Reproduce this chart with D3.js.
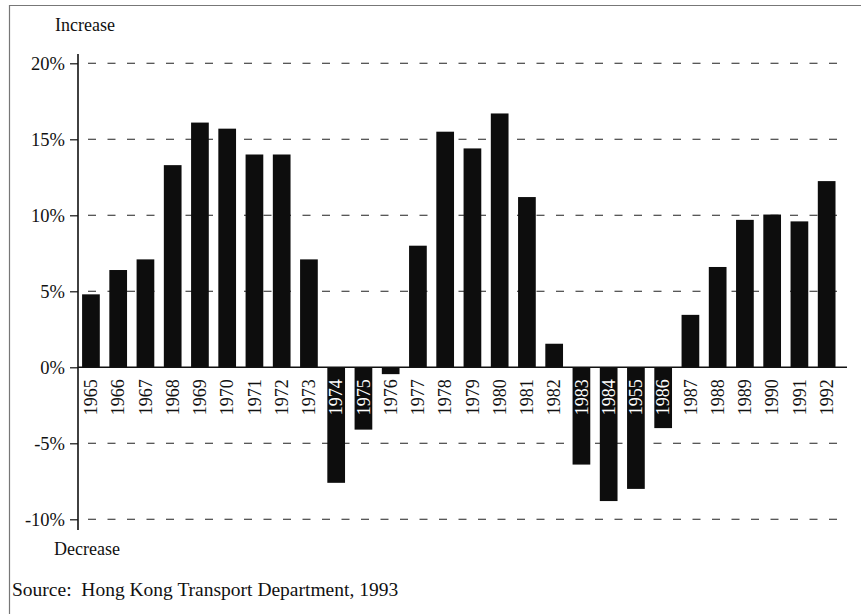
<!DOCTYPE html>
<html>
<head>
<meta charset="utf-8">
<script src="https://cdn.jsdelivr.net/npm/d3@7"></script>
<style>
  html, body { margin: 0; padding: 0; background: #fff; }
  svg { display: block; }
  text { font-family: "Liberation Serif", "DejaVu Serif", serif; fill: #111; }
</style>
</head>
<body>
<div id="chart"></div>
<script>
// Year labels as printed (the 1985 bar is printed "1955" in the source)
const years = ["1965", "1966", "1967", "1968", "1969", "1970", "1971", "1972", "1973", "1974",
  "1975", "1976", "1977", "1978", "1979", "1980", "1981", "1982", "1983", "1984",
  "1955", "1986", "1987", "1988", "1989", "1990", "1991", "1992"];

// Annual change, percent
const changes = [4.8, 6.4, 7.1, 13.3, 16.1, 15.7, 14.0, 14.0, 7.1, -7.6,
  -4.1, -0.45, 8.0, 15.5, 14.4, 16.7, 11.2, 1.55, -6.4, -8.8,
  -8.0, -4.0, 3.45, 6.6, 9.7, 10.05, 9.6, 12.25];

const tickValues = [20, 15, 10, 5, 0, -5, -10];
const tickLabels = ["20%", "15%", "10%", "5%", "0%", "-5%", "-10%"];

const width = 861;
const height = 614;

const svg = d3.select("#chart").append("svg").attr("width", width).attr("height", height);

// Frame (left and top edges only)
svg.append("path")
  .attr("d", "M9.5,614 L9.5,5.5 L861,5.5")
  .attr("fill", "none")
  .attr("stroke", "#777")
  .attr("stroke-width", 1.2);

const x = d3.scaleBand().domain(years).range([78, 839.6]).paddingInner(0.35).paddingOuter(0.15);
const y = d3.scaleLinear().domain([-10, 20]).range([519.3, 63.3]);

// Dashed gridlines (behind the bars)
svg.append("g")
  .selectAll("line")
  .data(tickValues.filter((v) => v !== 0))
  .join("line")
  .attr("x1", 88)
  .attr("x2", 846)
  .attr("y1", (d) => y(d))
  .attr("y2", (d) => y(d))
  .attr("stroke", "#222")
  .attr("stroke-width", 1.1)
  .attr("stroke-dasharray", "8,11.5");

// Y axis with ticks on the left
const yAxis = d3.axisLeft(y)
  .tickValues(tickValues)
  .tickSize(8)
  .tickPadding(5)
  .tickFormat((d, i) => tickLabels[i]);

const axisG = svg.append("g").attr("transform", "translate(78,0)").call(yAxis);
axisG.select(".domain").remove();
axisG.selectAll(".tick line").attr("stroke", "#111").attr("stroke-width", 1.2);
axisG.selectAll(".tick text")
  .attr("font-size", 18.5)
  .attr("font-family", '"Liberation Serif", "DejaVu Serif", serif')
  .attr("fill", "#111");

// Vertical axis line
svg.append("line")
  .attr("x1", 78).attr("x2", 78)
  .attr("y1", 54).attr("y2", 530)
  .attr("stroke", "#111")
  .attr("stroke-width", 1.6);

// Bars
svg.append("g")
  .selectAll("rect")
  .data(changes)
  .join("rect")
  .attr("x", (d, i) => x(years[i]))
  .attr("width", x.bandwidth())
  .attr("y", (d) => y(Math.max(0, d)))
  .attr("height", (d) => Math.abs(y(d) - y(0)))
  .attr("fill", "#0d0d0d");

// Zero line
svg.append("line")
  .attr("x1", 78).attr("x2", 847)
  .attr("y1", y(0)).attr("y2", y(0))
  .attr("stroke", "#111")
  .attr("stroke-width", 1.6);

// Rotated year labels just under the zero line
svg.append("g")
  .selectAll("text")
  .data(years)
  .join("text")
  .attr("transform", (d) => `translate(${x(d) + x.bandwidth() / 2},${y(0) + 12}) rotate(-90)`)
  .attr("dy", "0.34em")
  .attr("text-anchor", "end")
  .attr("font-size", 18)
  .style("fill", (d, i) => (changes[i] < -3 ? "#fff" : "#111"))
  .text((d) => d);

// Side captions
svg.append("text").attr("x", 55).attr("y", 31).attr("font-size", 18).text("Increase");
svg.append("text").attr("x", 54).attr("y", 555).attr("font-size", 18).text("Decrease");
svg.append("text").attr("x", 12).attr("y", 596).attr("font-size", 19.5)
  .attr("xml:space", "preserve")
  .text("Source:  Hong Kong Transport Department, 1993");
</script>
</body>
</html>
